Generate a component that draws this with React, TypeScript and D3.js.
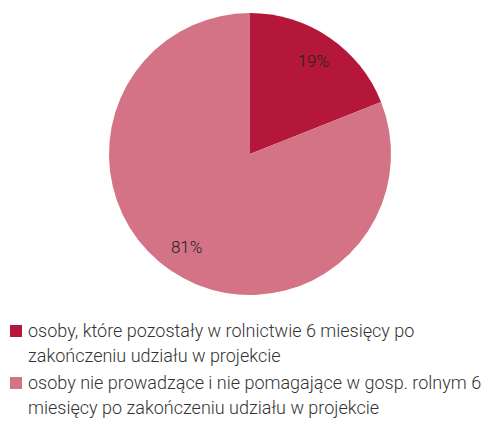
import React from "react";
import * as d3 from "d3";

const categories = [
  "osoby, które pozostały w rolnictwie 6 miesięcy po zakończeniu udziału w projekcie",
  "osoby nie prowadzące i nie pomagające w gosp. rolnym 6 miesięcy po zakończeniu udziału w projekcie",
];
const values = [19, 81];
const labels = ["19%", "81%"];
const colors = ["#b5173a", "#d47386"];
const legendLines = [
  ["osoby, które pozostały w rolnictwie 6 miesięcy po", "zakończeniu udziału w projekcie"],
  ["osoby nie prowadzące i nie pomagające w gosp. rolnym 6", "miesięcy po zakończeniu udziału w projekcie"],
];

const W = 492;
const H = 424;
const cx = 250;
const cy = 154;
const r = 141;

export default function App() {
  const pie = d3.pie<number>().sort(null)(values);
  const arc = d3.arc<d3.PieArcDatum<number>>().innerRadius(0).outerRadius(r);
  // labels sit fairly far out, roughly 80% of the radius
  const labelArc = d3.arc<d3.PieArcDatum<number>>().innerRadius(r * 0.8).outerRadius(r * 0.8);
  const font = "Roboto, 'Noto Sans', sans-serif";

  return (
    <svg
      width={W}
      height={H}
      style={{ position: "absolute", left: 0, top: 0, background: "#fff" }}
      fontFamily={font}
    >
      <g transform={`translate(${cx},${cy})`}>
        {pie.map((d, i) => (
          <path key={categories[i]} d={arc(d) || ""} fill={colors[i]} />
        ))}
        {pie.map((d, i) => {
          const [x, y] = labelArc.centroid(d);
          return (
            <text
              key={labels[i]}
              x={x}
              y={y}
              textAnchor="middle"
              dominantBaseline="central"
              fontSize={17}
              fontWeight={300}
              fill="#222"
            >
              {labels[i]}
            </text>
          );
        })}
      </g>
      {legendLines.map((lines, i) => {
        const y0 = 337 + i * 52;
        return (
          <g key={i}>
            <rect x={10} y={y0 - 12} width={12} height={12} fill={colors[i]} />
            {lines.map((t, j) => (
              <text key={j} x={28} y={y0 + j * 25} fontSize={18} fontWeight={300} fill="#333">
                {t}
              </text>
            ))}
          </g>
        );
      })}
    </svg>
  );
}
